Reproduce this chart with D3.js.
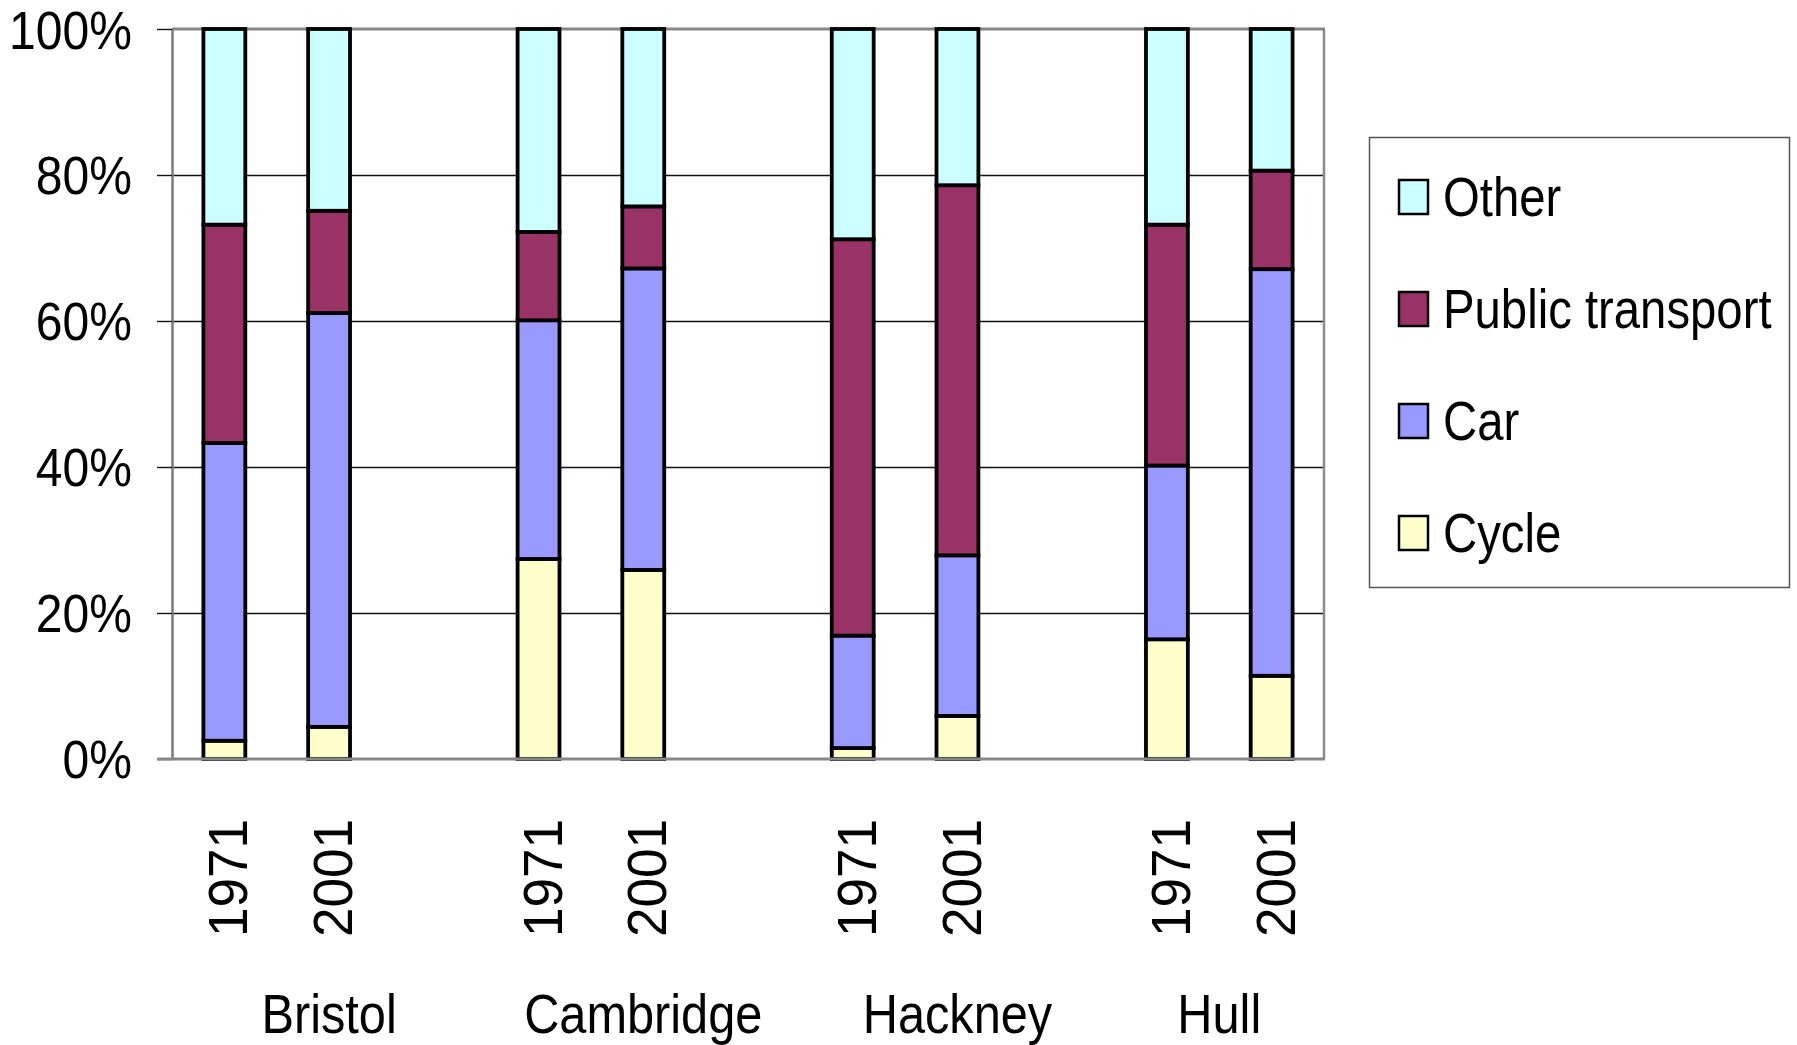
<!DOCTYPE html>
<html>
<head>
<meta charset="utf-8">
<script src="https://cdn.jsdelivr.net/npm/d3@7"></script>
<style>
  html, body { margin: 0; padding: 0; background: #fff; }
  svg { display: block; }
  text { font-family: "Liberation Sans", Arial, sans-serif; fill: #000; }
</style>
</head>
<body>
<svg id="chart" width="1797" height="1045"></svg>
<script>
// Mode of travel to work, share of trips (%), 1971 vs 2001
const cities = ["Bristol", "Cambridge", "Hackney", "Hull"];
const years = ["1971", "2001"];

// one value per city/year, in the order Bristol 1971, Bristol 2001, Cambridge 1971, ...
const cycle           = [2.5, 4.4, 27.4, 25.9, 1.5, 5.9, 16.4, 11.4];
const car             = [40.8, 56.7, 32.7, 41.3, 15.4, 22.0, 23.8, 55.7];
const publicTransport = [29.9, 14.0, 12.1, 8.5, 54.3, 50.7, 33.0, 13.5];
const other           = [26.8, 24.9, 27.8, 24.3, 28.8, 21.4, 26.8, 19.4];

const seriesNames = ["Cycle", "Car", "Public transport", "Other"];
const seriesColors = ["#FFFFCC", "#9999FF", "#993366", "#CCFFFF"];
const yTicks = [0, 20, 40, 60, 80, 100];

// ---- layout ----
const svg = d3.select("#chart");
const plot = { left: 172, right: 1324, top: 29, bottom: 759 };
const squeeze = 0.87;   // narrow lettering
const fontSize = 56;

// category slots: each city gets its two years plus a spacer (none after the last)
const slots = [];
cities.forEach((c, i) => {
  years.forEach(yr => slots.push({ key: c + " " + yr, city: c, year: yr }));
  if (i < cities.length - 1) slots.push({ key: c + " gap", city: c, year: null });
});

const rows = [];
let k = 0;
cities.forEach(c => years.forEach(yr => {
  rows.push({
    key: c + " " + yr, city: c, year: yr,
    "Cycle": cycle[k], "Car": car[k],
    "Public transport": publicTransport[k], "Other": other[k]
  });
  k++;
}));

const x = d3.scaleBand()
  .domain(slots.map(s => s.key))
  .range([plot.left, plot.right])
  .paddingInner(0.6)
  .paddingOuter(0.3);

const y = d3.scaleLinear().domain([0, 100]).range([plot.bottom, plot.top]);
const color = d3.scaleOrdinal().domain(seriesNames).range(seriesColors);

// ---- gridlines ----
svg.append("g")
  .selectAll("line")
  .data(yTicks.filter(t => t > 0 && t < 100))
  .join("line")
  .attr("x1", plot.left).attr("x2", plot.right)
  .attr("y1", d => Math.round(y(d)) + 0.5).attr("y2", d => Math.round(y(d)) + 0.5)
  .attr("stroke", "#111").attr("stroke-width", 1.4);

// plot frame: top and right edges
svg.append("line")
  .attr("x1", plot.left).attr("x2", plot.right + 1)
  .attr("y1", plot.top).attr("y2", plot.top)
  .attr("stroke", "#858585").attr("stroke-width", 3);
svg.append("line")
  .attr("x1", plot.right).attr("x2", plot.right)
  .attr("y1", plot.top).attr("y2", plot.bottom)
  .attr("stroke", "#8a8a8a").attr("stroke-width", 2.5);

// ---- y axis ----
const yAxis = svg.append("g")
  .attr("transform", `translate(${plot.left},0)`)
  .call(d3.axisLeft(y).tickValues(yTicks).tickFormat(d => d + "%").tickSize(15).tickSizeOuter(0));
yAxis.select(".domain").attr("stroke", "#7a7a7a").attr("stroke-width", 2.5);
yAxis.selectAll(".tick line").attr("stroke", "#111").attr("stroke-width", 1.4);
yAxis.selectAll(".tick text")
  .attr("x", null).attr("dy", null)
  .attr("transform", d => `translate(-40,${d === 100 ? 1 : 0}) scale(${squeeze + 0.02},1)`)
  .attr("text-anchor", "end")
  .attr("dominant-baseline", "central")
  .style("font-size", "54px")
  .style("font-family", '"Liberation Sans", Arial, sans-serif')
  .attr("fill", "#000");

// ---- stacked bars ----
const stacked = d3.stack().keys(seriesNames)(rows);
svg.append("g")
  .selectAll("g")
  .data(stacked)
  .join("g")
  .attr("fill", d => color(d.key))
  .selectAll("rect")
  .data(d => d)
  .join("rect")
  .attr("x", d => x(d.data.key))
  .attr("width", x.bandwidth())
  .attr("y", d => y(d[1]))
  .attr("height", d => y(d[0]) - y(d[1]))
  .attr("stroke", "#000")
  .attr("stroke-width", 3.8);

// x baseline drawn over the bar bottoms
svg.append("line")
  .attr("x1", plot.left - 15).attr("x2", plot.right + 1)
  .attr("y1", plot.bottom).attr("y2", plot.bottom)
  .attr("stroke", "#888").attr("stroke-width", 3);

// ---- year labels (rotated) ----
svg.append("g")
  .selectAll("text")
  .data(rows)
  .join("text")
  .attr("transform", d => `translate(${x(d.key) + x.bandwidth() / 2 + 3},819) scale(1.05,1) rotate(-90)`)
  .attr("text-anchor", "end")
  .attr("dy", "0.36em")
  .style("font-size", "53px")
  .text(d => d.year);

// ---- city labels, centred under the slots each city owns ----
svg.append("g")
  .selectAll("text")
  .data(cities)
  .join("text")
  .attr("transform", c => {
    const owned = slots.filter(s => s.city === c).map(s => x(s.key) + x.bandwidth() / 2);
    return `translate(${d3.mean(owned)},1033) scale(${squeeze},1)`;
  })
  .attr("text-anchor", "middle")
  .style("font-size", fontSize + "px")
  .text(c => c);

// ---- legend ----
const legend = svg.append("g");
legend.append("rect")
  .attr("x", 1369.5).attr("y", 137.5)
  .attr("width", 420).attr("height", 450)
  .attr("fill", "#fff").attr("stroke", "#555").attr("stroke-width", 1.5);

const legendOrder = seriesNames.slice().reverse();
const legendItems = legend.selectAll("g.item")
  .data(legendOrder)
  .join("g")
  .attr("class", "item")
  .attr("transform", (d, i) => `translate(1399,${197 + i * 112})`);
legendItems.append("rect")
  .attr("x", 0).attr("y", -17)
  .attr("width", 29).attr("height", 34)
  .attr("fill", d => color(d))
  .attr("stroke", "#000").attr("stroke-width", 2.5);
legendItems.append("text")
  .attr("transform", `translate(44,0) scale(0.86,1)`)
  .attr("dominant-baseline", "central")
  .style("font-size", "55px")
  .text(d => d);
</script>
</body>
</html>
